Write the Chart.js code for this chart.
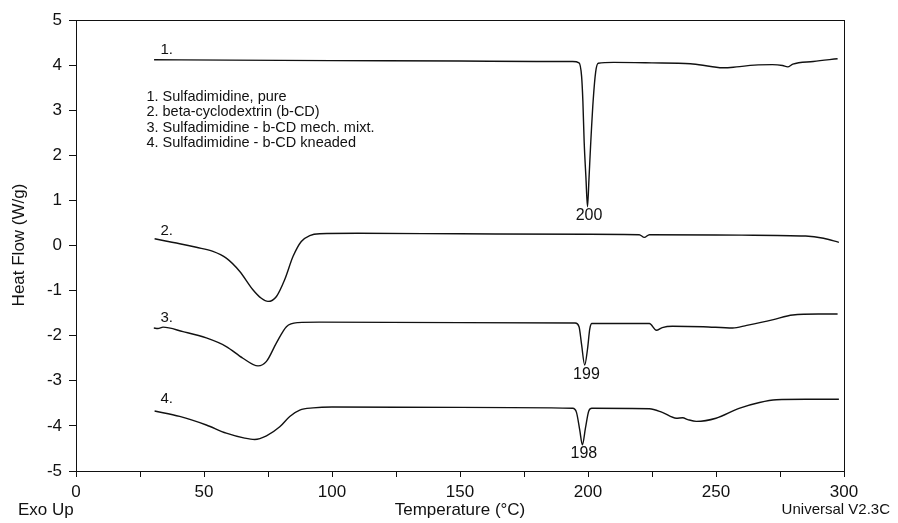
<!DOCTYPE html>
<html>
<head>
<meta charset="utf-8">
<script src="https://cdn.jsdelivr.net/npm/chart.js@4/dist/chart.umd.min.js"></script>
<style>
  body { margin: 0; background: #fff; }
  canvas { display: block; }
</style>
</head>
<body>
<canvas id="dsc" width="898" height="523"></canvas>
<script>
// curve 1: sulfadimidine, pure
const temps1 = [30.5, 60, 100, 150, 180, 194, 196.5, 197.5, 198, 198.5, 199.2, 199.8, 200.4, 201, 202, 203, 204,
    210, 225, 240, 248, 253, 258, 265, 272, 276, 278, 280, 288, 297.5];
const flow1 = [4.12, 4.11, 4.10, 4.09, 4.08, 4.08, 4.05, 3.75, 3.2, 2.3, 1.5, 0.86, 1.5, 2.2, 3.2, 3.85, 4.04,
    4.06, 4.05, 4.03, 3.97, 3.94, 3.96, 4.00, 4.01, 3.99, 3.96, 4.02, 4.08, 4.14];

// curve 2: beta-cyclodextrin
const temps2 = [30.7, 35, 40.5, 47, 53.5, 58.7, 63.9, 69.1, 72.4, 75, 78.3, 81.5, 84.8, 88, 91.3, 95.2,
    110, 150, 200, 220, 222, 224, 260, 285, 292, 298];
const flow2 = [0.15, 0.10, 0.04, -0.04, -0.13, -0.28, -0.57, -0.98, -1.17, -1.24, -1.13, -0.76, -0.24, 0.09, 0.22, 0.26,
    0.27, 0.26, 0.25, 0.24, 0.18, 0.24, 0.23, 0.21, 0.16, 0.07];

// curve 3: mechanical mixture
const temps3 = [30.4, 32, 34, 41.8, 50.9, 58.7, 65.2, 71.1, 74.4, 78.3, 82.2, 86.7, 95, 150, 195,
    196.5, 197.5, 198.7, 199.8, 200.7, 201.5, 224, 226.7, 229, 233, 245, 256.5, 262, 272, 280, 290, 297.5];
const flow3 = [-1.83, -1.84, -1.81, -1.91, -2.05, -2.24, -2.50, -2.67, -2.57, -2.16, -1.80, -1.71, -1.70, -1.71, -1.72,
    -1.80, -2.20, -2.65, -2.30, -1.85, -1.73, -1.73, -1.88, -1.82, -1.79, -1.80, -1.83, -1.77, -1.65, -1.54, -1.52, -1.52];

// curve 4: kneaded
const temps4 = [30.7, 40.5, 50.9, 58.7, 65.9, 69.8, 74.4, 79.6, 83.5, 87.4, 92.6, 100, 150, 194,
    195.5, 196.8, 197.8, 199, 200.3, 201.5, 224, 229, 234.5, 237, 239, 242.3, 250, 259, 267, 273.6, 285, 298];
const flow4 = [-3.67, -3.79, -3.98, -4.16, -4.27, -4.30, -4.22, -4.02, -3.79, -3.65, -3.60, -3.58, -3.59, -3.61,
    -3.70, -4.10, -4.42, -4.05, -3.67, -3.61, -3.62, -3.70, -3.83, -3.82, -3.86, -3.90, -3.83, -3.61, -3.48, -3.42, -3.41, -3.41];

const curveNames = [
    '1. Sulfadimidine, pure',
    '2. beta-cyclodextrin (b-CD)',
    '3. Sulfadimidine - b-CD mech. mixt.',
    '4. Sulfadimidine - b-CD kneaded'
];
const curveTags = ['1.', '2.', '3.', '4.'];
const tagValues = [4.33, 0.32, -1.60, -3.40];
const tagTemp = 33;

// melting peaks labelled under curves 1, 3, 4
const peakTemps = [200, 199, 198];
const peakLabels = ['200', '199', '198'];
const peakCurves = [0, 2, 3];

const FONT = '"Liberation Sans", Arial, sans-serif';

const toPoints = (xs, ys) => xs.map((x, i) => ({ x: x, y: ys[i] }));

const lineSet = (xs, ys) => ({
    data: toPoints(xs, ys),
    borderColor: '#111',
    borderWidth: 1.4,
    pointRadius: 0,
    fill: false,
    cubicInterpolationMode: 'monotone'
});

const textPlugin = {
    id: 'dscText',
    afterDraw(chart) {
        const ctx = chart.ctx;
        const a = chart.chartArea;
        const xs = chart.scales.x;
        const ys = chart.scales.y;
        ctx.save();
        // frame top/right
        ctx.strokeStyle = '#111';
        ctx.lineWidth = 1;
        ctx.strokeRect(a.left + 0.5, a.top + 0.5, a.right - a.left, a.bottom - a.top);

        ctx.fillStyle = '#111';
        ctx.font = '15px ' + FONT;
        ctx.textBaseline = 'middle';
        ctx.textAlign = 'left';
        curveTags.forEach((t, i) => {
            ctx.fillText(t, xs.getPixelForValue(tagTemp), ys.getPixelForValue(tagValues[i]));
        });

        ctx.font = '14.5px ' + FONT;
        const lx = xs.getPixelForValue(27.5);
        const ly = ys.getPixelForValue(3.3);
        curveNames.forEach((n, i) => ctx.fillText(n, lx, ly + i * 15.5));

        ctx.font = '16px ' + FONT;
        ctx.textAlign = 'center';
        const sets = [flow1, flow2, flow3, flow4];
        peakTemps.forEach((t, i) => {
            const minVal = Math.min(...sets[peakCurves[i]]);
            ctx.fillText(peakLabels[i], xs.getPixelForValue(t) + 1, ys.getPixelForValue(minVal) + 9);
        });

        ctx.font = '17px ' + FONT;
        ctx.fillText('Temperature (°C)', 460, 510);
        ctx.textAlign = 'left';
        ctx.fillText('Exo Up', 18, 510);
        ctx.font = '15px ' + FONT;
        ctx.textAlign = 'right';
        ctx.fillText('Universal V2.3C', 890, 510);

        ctx.font = '17px ' + FONT;
        ctx.translate(19, 245);
        ctx.rotate(-Math.PI / 2);
        ctx.textAlign = 'center';
        ctx.fillText('Heat Flow (W/g)', 0, 0);
        ctx.restore();
    }
};

const ctx = document.getElementById('dsc').getContext('2d');
new Chart(ctx, {
    type: 'line',
    data: {
        datasets: [
            lineSet(temps1, flow1),
            lineSet(temps2, flow2),
            lineSet(temps3, flow3),
            lineSet(temps4, flow4)
        ]
    },
    options: {
        responsive: false,
        animation: false,
        layout: { padding: { top: 20, right: 54, left: 0, bottom: 0 } },
        scales: {
            x: {
                type: 'linear',
                min: 0,
                max: 300,
                afterFit: (s) => { s.height = 52; },
                ticks: {
                    stepSize: 25,
                    color: '#111',
                    padding: 5,
                    maxRotation: 0,
                    font: { size: 17, family: FONT },
                    callback: (v) => (v % 50 === 0 ? v : '')
                },
                grid: { drawOnChartArea: false, tickLength: 6, color: '#111' },
                border: { color: '#111', width: 1 }
            },
            y: {
                min: -5,
                max: 5,
                afterFit: (s) => { s.width = 76; },
                ticks: {
                    stepSize: 0.5,
                    color: '#111',
                    padding: 7,
                    font: { size: 17, family: FONT },
                    callback: (v) => (v % 1 === 0 ? v : '')
                },
                grid: { drawOnChartArea: false, tickLength: 7, color: '#111' },
                border: { color: '#111', width: 1 }
            }
        },
        plugins: {
            legend: { display: false },
            tooltip: { enabled: false }
        }
    },
    plugins: [textPlugin]
});
</script>
</body>
</html>
